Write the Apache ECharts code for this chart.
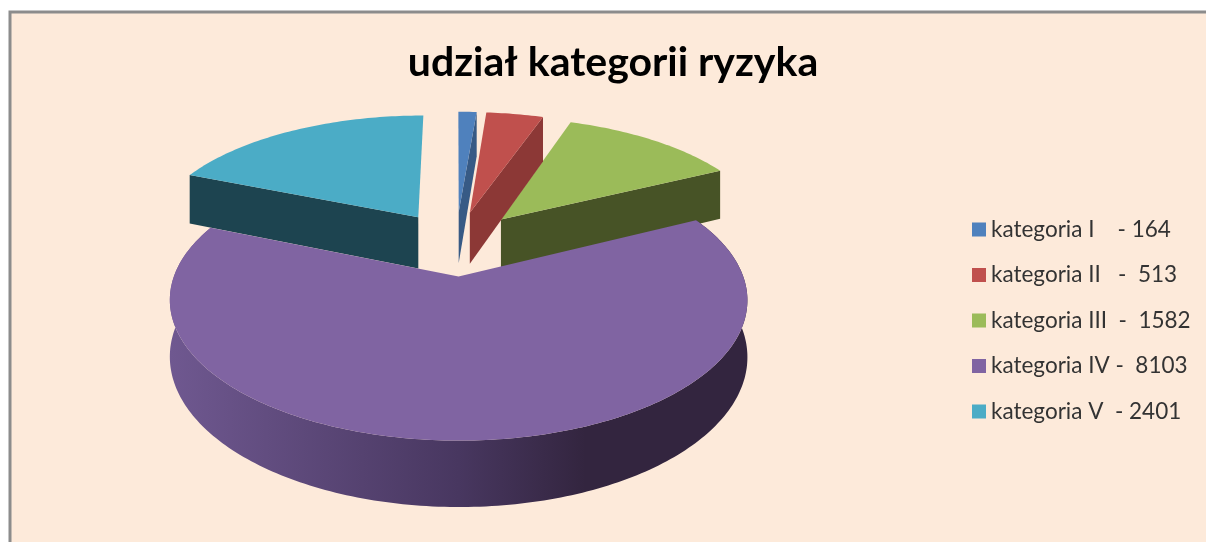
<!DOCTYPE html>
<html>
<head>
<meta charset="utf-8">
<title>udział kategorii ryzyka</title>
<script src="https://cdn.jsdelivr.net/npm/echarts@6/dist/echarts.min.js"></script>
<style>
html, body { margin: 0; padding: 0; background: #fff; }
#container { width: 1206px; height: 542px; }
</style>
</head>
<body>
<div id="container"></div>
<script>
var titleText = 'udział kategorii ryzyka';
var categories = ['kategoria I', 'kategoria II', 'kategoria III', 'kategoria IV', 'kategoria V'];
var values = [164, 513, 1582, 8103, 2401];
var legendLabels = ['kategoria I    - 164', 'kategoria II   -  513', 'kategoria III  -  1582', 'kategoria IV -  8103', 'kategoria V  - 2401'];
var topColors = ['#4f81bd', '#c0504d', '#9bbb59', '#8064a2', '#4bacc6'];
var wallColors = ['#375a85', '#8c3836', '#475326', '#4a3860', '#1d4450'];

// hand made perspective for the tilted pie
var cx = 456, cy = 243, R = 273, D = 70, tilt = 0.46, persp = 1700, depth = 53;

var myChart = echarts.init(document.getElementById('container'));

var total = values.reduce(function (a, b) { return a + b; }, 0);

function sliceAngles(idx) {
  var sum = 0;
  for (var i = 0; i < idx; i++) sum += values[i];
  return [sum / total * 360, (sum + values[idx]) / total * 360];
}

function project(idx, deg, r, h) {
  var ang = sliceAngles(idx);
  var mid = (ang[0] + ang[1]) / 2 * Math.PI / 180;
  var a = deg * Math.PI / 180;
  var X = D * Math.sin(mid) + r * Math.sin(a);
  var Z = D * Math.cos(mid) + r * Math.cos(a);
  var f = persp / (persp + Z);
  return [cx + X * f, cy - Z * tilt * f + h * depth * f];
}

function arcPoints(idx, from, to, h) {
  var pts = [];
  var n = Math.max(2, Math.ceil(Math.abs(to - from)));
  for (var i = 0; i <= n; i++) {
    pts.push(project(idx, from + (to - from) * i / n, R, h));
  }
  return pts;
}

function poly(points, fill) {
  return { type: 'polygon', shape: { points: points }, style: { fill: fill } };
}

function renderSlice(params) {
  var idx = params.seriesIndex;
  var ang = sliceAngles(idx);
  var children = [];
  var apexTop = project(idx, 0, 0, 0);
  var apexBottom = project(idx, 0, 0, 1);
  var arcTop = arcPoints(idx, ang[0], ang[1], 0);
  var arcBottom = arcPoints(idx, ang[0], ang[1], 1);

  if (idx === 3) {
    // outer rim, only this slice shows it
    children.push(poly(arcTop.concat(arcBottom.slice().reverse()), new echarts.graphic.LinearGradient(0, 0, 1, 0, [
      { offset: 0, color: '#6f5890' },
      { offset: 0.5, color: '#483760' },
      { offset: 0.72, color: '#33253f' },
      { offset: 1, color: '#33253f' }
    ])));
  } else {
    // cut face towards the viewer
    var edge = idx === 4 ? ang[0] : ang[1];
    var ends = [project(idx, edge, R, 0), project(idx, edge, R, 1)];
    children.push(poly([apexTop, ends[0], ends[1], apexBottom], wallColors[idx]));
  }
  children.push(poly([apexTop].concat(arcTop), topColors[idx]));
  return { type: 'group', children: children };
}

var drawOrder = [4, 2, 1, 0, 3];

var option = {
  backgroundColor: '#ffffff',
  animation: false,
  graphic: [{
    type: 'rect',
    z: -10,
    silent: true,
    shape: { x: 10, y: 12, width: 1300, height: 600 },
    style: { fill: '#fdeada', stroke: '#8c8c8c', lineWidth: 3 }
  }],
  title: {
    text: titleText,
    left: 608,
    top: 37,
    textAlign: 'center',
    textStyle: { fontFamily: 'Lato', fontWeight: 'bold', fontSize: 41, color: '#000000' }
  },
  legend: {
    orient: 'vertical',
    left: 967,
    top: 213,
    itemWidth: 14,
    itemHeight: 14,
    itemGap: 22.5,
    icon: 'rect',
    data: legendLabels,
    textStyle: { fontFamily: 'Lato', fontSize: 22.5, color: '#333333' }
  },
  series: categories.map(function (name, i) {
    return {
      name: legendLabels[i],
      type: 'custom',
      coordinateSystem: 'none',
      z: 2 + drawOrder.indexOf(i),
      silent: true,
      itemStyle: { color: topColors[i] },
      renderItem: renderSlice,
      data: [[values[i]]]
    };
  })
};

myChart.setOption(option);
</script>
</body>
</html>
